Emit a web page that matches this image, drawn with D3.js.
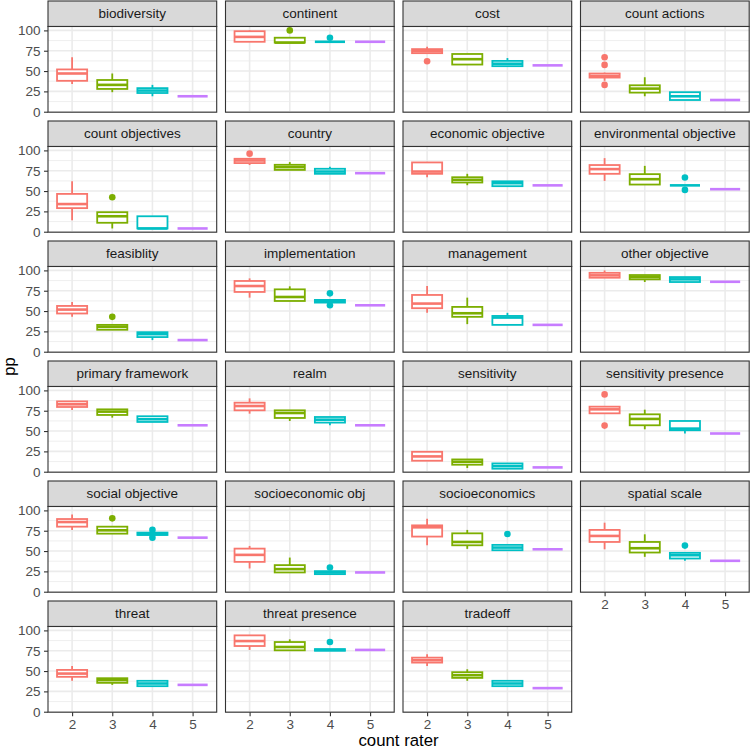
<!DOCTYPE html>
<html>
<head>
<meta charset="utf-8">
<script src="https://cdn.jsdelivr.net/npm/d3@7"></script>
<style>
  body { margin: 0; background: #fff; }
  text { font-family: "Liberation Sans", Arial, Helvetica, sans-serif; }
</style>
</head>
<body>
<div id="chart"></div>
<script>
// facettes et niveaux
const facetNames = ["biodiversity", "continent", "cost", "count actions",
  "count objectives", "country", "economic objective", "environmental objective",
  "feasiblity", "implementation", "management", "other objective",
  "primary framework", "realm", "sensitivity", "sensitivity presence",
  "social objective", "socioeconomic obj", "socioeconomics", "spatial scale",
  "threat", "threat presence", "tradeoff"];
const raters = ["2", "3", "4", "5"];
const yTicks = [0, 25, 50, 75, 100];
const yMinor = [12.5, 37.5, 62.5, 87.5];
const colors = ["#F8766D", "#7CAE00", "#00BFC4", "#C77CFF"];

// [moustache bas, q1, mediane, q3, moustache haut] pour rater 2..5
const biodiversity = [[34, 38, 47, 52, 67], [24, 28, 33, 39, 47], [19, 23, 26, 29, 33], [19, 19, 19, 19, 19]];
const continent = [[86, 86, 92, 99, 100], [85, 85, 85, 91, 91], [86, 86, 86, 86, 86], [86, 86, 86, 86, 86]];
const cost = [[72, 72, 74.5, 77, 80], [58, 58, 64.6, 71, 71], [56, 56, 59, 62.5, 66], [57, 57, 57, 57, 57]];
const countActions = [[38, 42, 44, 47, 48], [19, 23.5, 28.4, 32.5, 42.4], [14.4, 14.4, 19, 24, 24], [14.4, 14.4, 14.4, 14.4, 14.4]];
const countObjectives = [[14, 29, 34, 46.5, 62], [4, 11, 19, 24, 24], [4, 4, 4, 19, 19], [4, 4, 4, 4, 4]];
const country = [[82, 84.4, 87.6, 89.7, 89.7], [76, 76, 79.4, 82.3, 85.6], [71.2, 71.2, 74, 77.4, 80], [72, 72, 72, 72, 72]];
const economicObjective = [[67, 71.2, 74, 85.2, 85.2], [57.2, 60.5, 63.8, 67, 71.2], [56, 56, 59.7, 62, 62], [57, 57, 57, 57, 57]];
const environmentalObjective = [[62.5, 71.2, 77, 82, 90.5], [58, 58, 64.6, 70.8, 81], [57, 57, 57, 57, 57], [52.3, 52.3, 52.3, 52.3, 52.3]];
const feasiblity = [[43, 47, 51.8, 56.3, 61.2], [27, 27, 30.6, 33, 33], [14.3, 18, 21.6, 24, 24], [14.3, 14.3, 14.3, 14.3, 14.3]];
const implementation = [[66.5, 73.5, 80.8, 87, 90.2], [62.4, 62.4, 67.3, 76.7, 80.4], [60.4, 60.4, 62.4, 63.7, 63.7], [57.1, 57.1, 57.1, 57.1, 57.1]];
const management = [[47.8, 53.5, 59.2, 69.8, 80.8], [33.9, 42.9, 47.3, 55.1, 66.5], [33, 33, 42, 44, 47.8], [33, 33, 33, 33, 33]];
const otherObjective = [[91, 91, 93.9, 97, 100], [85.7, 89, 91.8, 94.3, 94.3], [85.7, 85.7, 89, 91.8, 91.8], [86, 86, 86, 86, 86]];
const primaryFramework = [[76, 79.6, 82.9, 86.5, 86.5], [66.5, 69.8, 73.9, 76.7, 76.7], [61.2, 61.2, 64.5, 68.2, 68.2], [57.1, 57.1, 57.1, 57.1, 57.1]];
const realm = [[71.4, 75.5, 80.8, 84.9, 90.2], [62.4, 66.1, 72.2, 75.5, 75.5], [57.1, 60.4, 64, 67.3, 67.3], [57.1, 57.1, 57.1, 57.1, 57.1]];
const sensitivity = [[13.5, 13.5, 18.8, 24.5, 24.5], [4.5, 8.6, 12.2, 15.1, 15.1], [3.7, 3.7, 6.9, 10.2, 10.2], [5.3, 5.3, 5.3, 5.3, 5.3]];
const sensitivityPresence = [[71.8, 71.8, 76.7, 80, 80], [52.2, 57.1, 64.9, 70.6, 76.3], [47, 51, 53, 62.4, 62.4], [47, 47, 47, 47, 47]];
const socialObjective = [[76, 80, 85.7, 89.4, 95.1], [71.4, 71.4, 75.5, 80, 80], [69.8, 69.8, 70.6, 72.7, 72.7], [66.5, 66.5, 66.5, 66.5, 66.5]];
const socioeconomicObj = [[28.6, 36.7, 45.3, 53, 56.3], [23.7, 23.7, 27.8, 32.7, 42], [21.6, 21.6, 23.7, 25.3, 25.3], [23.7, 23.7, 23.7, 23.7, 23.7]];
const socioeconomics = [[57.1, 67.8, 79.2, 81.6, 89.8], [52.7, 57.1, 61.2, 71.8, 76], [51, 51, 54.3, 57.6, 57.6], [52.2, 52.2, 52.2, 52.2, 52.2]];
const spatialScale = [[52.2, 61.2, 68.6, 76, 84.9], [42.9, 48.2, 53.5, 61.2, 70.6], [38, 40.8, 44.9, 47.8, 47.8], [38, 38, 38, 38, 38]];
const threat = [[38, 42.9, 46.9, 51.4, 56.3], [33, 35.5, 38.8, 41.2, 41.2], [31.4, 31.4, 34.7, 38, 38], [33, 33, 33, 33, 33]];
const threatPresence = [[76, 80.8, 86.9, 93.9, 93.9], [75.5, 75.5, 79.6, 85.7, 89], [75, 75, 76, 77, 77], [76, 76, 76, 76, 76]];
const tradeoff = [[56.3, 60.4, 63.3, 66.5, 70.6], [38, 41.6, 44.9, 48.6, 52.2], [31.4, 31.4, 34.7, 38, 38], [29, 29, 29, 29, 29]];

// valeurs aberrantes : [facette, rater, valeur]
const outliers = [
  ["continent", "3", 100], ["continent", "4", 91],
  ["cost", "2", 62],
  ["count actions", "2", 67], ["count actions", "2", 57.6], ["count actions", "2", 33],
  ["count objectives", "3", 42.4],
  ["country", "2", 96],
  ["environmental objective", "4", 66.7], ["environmental objective", "4", 51.4],
  ["feasiblity", "3", 42.9],
  ["implementation", "4", 71.8], ["implementation", "4", 57.1],
  ["sensitivity presence", "2", 95.1], ["sensitivity presence", "2", 56.7],
  ["social objective", "3", 90.2], ["social objective", "4", 76], ["social objective", "4", 66.5],
  ["socioeconomic obj", "4", 29.8],
  ["socioeconomics", "4", 71],
  ["spatial scale", "4", 56.7],
  ["threat presence", "4", 85.7]
];

const boxStats = [biodiversity, continent, cost, countActions, countObjectives, country,
  economicObjective, environmentalObjective, feasiblity, implementation, management,
  otherObjective, primaryFramework, realm, sensitivity, sensitivityPresence,
  socialObjective, socioeconomicObj, socioeconomics, spatialScale, threat,
  threatPresence, tradeoff];

// dimensions
const width = 750, height = 750;
const nCol = 4;
const left0 = 48, panelW = 168.7, gapX = 8.8;
const top0 = 1, stripH = 25.5, panelH = 85.7, rowStep = 120;

const svg = d3.select("#chart").append("svg")
  .attr("width", width).attr("height", height);

const x = d3.scalePoint().domain(raters).range([0, panelW]).padding(0.6);
const y = d3.scaleLinear().domain([-0.6, 104.8]).range([panelH, 0]);
const color = d3.scaleOrdinal().domain(raters).range(colors);
const boxW = x.step() * 0.75;

const nFacets = facetNames.length;
const nRow = Math.ceil(nFacets / nCol);

facetNames.forEach(function(name, i) {
  const col = i % nCol, row = Math.floor(i / nCol);
  const px = left0 + col * (panelW + gapX);
  const py = top0 + row * rowStep + stripH;

  // bandeau
  const strip = svg.append("g").attr("transform", `translate(${px},${py - stripH})`);
  strip.append("rect")
    .attr("width", panelW).attr("height", stripH)
    .attr("fill", "#D9D9D9").attr("stroke", "#333333").attr("stroke-width", 1.1);
  strip.append("text")
    .attr("x", panelW / 2).attr("y", stripH / 2).attr("dy", "0.35em")
    .attr("text-anchor", "middle").attr("font-size", "13.5px").attr("fill", "#1A1A1A")
    .text(name);

  const g = svg.append("g").attr("transform", `translate(${px},${py})`);
  g.append("rect").attr("width", panelW).attr("height", panelH).attr("fill", "#fff");

  // grille
  g.selectAll(".minor").data(yMinor).join("line")
    .attr("x1", 0).attr("x2", panelW)
    .attr("y1", d => y(d)).attr("y2", d => y(d))
    .attr("stroke", "#EBEBEB").attr("stroke-width", 0.8);
  g.selectAll(".major").data(yTicks).join("line")
    .attr("x1", 0).attr("x2", panelW)
    .attr("y1", d => y(d)).attr("y2", d => y(d))
    .attr("stroke", "#EBEBEB").attr("stroke-width", 1.6);
  g.selectAll(".vmajor").data(raters).join("line")
    .attr("x1", d => x(d)).attr("x2", d => x(d))
    .attr("y1", 0).attr("y2", panelH)
    .attr("stroke", "#EBEBEB").attr("stroke-width", 1.6);

  // boites
  const stats = boxStats[i];
  raters.forEach(function(r, j) {
    const s = stats[j], c = color(r), cx = x(r);
    const b = g.append("g");
    b.append("line").attr("x1", cx).attr("x2", cx)
      .attr("y1", y(s[3])).attr("y2", y(s[4]))
      .attr("stroke", c).attr("stroke-width", 1.8);
    b.append("line").attr("x1", cx).attr("x2", cx)
      .attr("y1", y(s[1])).attr("y2", y(s[0]))
      .attr("stroke", c).attr("stroke-width", 1.8);
    b.append("rect")
      .attr("x", cx - boxW / 2).attr("width", boxW)
      .attr("y", y(s[3])).attr("height", y(s[1]) - y(s[3]))
      .attr("fill", "#fff").attr("stroke", c).attr("stroke-width", 1.8);
    b.append("line").attr("x1", cx - boxW / 2).attr("x2", cx + boxW / 2)
      .attr("y1", y(s[2])).attr("y2", y(s[2]))
      .attr("stroke", c).attr("stroke-width", 2.6);
  });

  g.selectAll(".out").data(outliers.filter(o => o[0] === name)).join("circle")
    .attr("cx", d => x(d[1])).attr("cy", d => y(d[2])).attr("r", 3.3)
    .attr("fill", d => color(d[1]));

  g.append("rect").attr("width", panelW).attr("height", panelH)
    .attr("fill", "none").attr("stroke", "#333333").attr("stroke-width", 1.1);

  // axe Y sur la premiere colonne
  if (col === 0) {
    const ay = g.append("g").call(d3.axisLeft(y).tickValues(yTicks).tickSize(4).tickPadding(3.4));
    ay.select(".domain").remove();
    ay.selectAll("line").attr("stroke", "#333333").attr("stroke-width", 1.1);
    ay.selectAll("text").attr("fill", "#4D4D4D").attr("font-size", "13.5px")
      .attr("font-family", "Liberation Sans, Arial, sans-serif");
  }
  // axe X sous le dernier panneau de chaque colonne
  const lastInCol = (i + nCol >= nFacets);
  if (lastInCol) {
    const ax = g.append("g").attr("transform", `translate(0,${panelH})`)
      .call(d3.axisBottom(x).tickSize(4).tickPadding(3.4));
    ax.select(".domain").remove();
    ax.selectAll("line").attr("stroke", "#333333").attr("stroke-width", 1.1);
    ax.selectAll("text").attr("fill", "#4D4D4D").attr("font-size", "13.5px")
      .attr("font-family", "Liberation Sans, Arial, sans-serif");
  }
});

// titres des axes
const bottomY = top0 + (nRow - 1) * rowStep + stripH + panelH;
svg.append("text")
  .attr("x", left0 + (nCol * panelW + (nCol - 1) * gapX) / 2)
  .attr("y", bottomY + 34)
  .attr("text-anchor", "middle").attr("font-size", "16.8px").attr("fill", "#000")
  .text("count rater");
svg.append("text")
  .attr("transform", `translate(15,${(top0 + bottomY) / 2 + 10}) rotate(-90)`)
  .attr("text-anchor", "middle").attr("font-size", "16.5px").attr("fill", "#000")
  .text("pp");
</script>
</body>
</html>
